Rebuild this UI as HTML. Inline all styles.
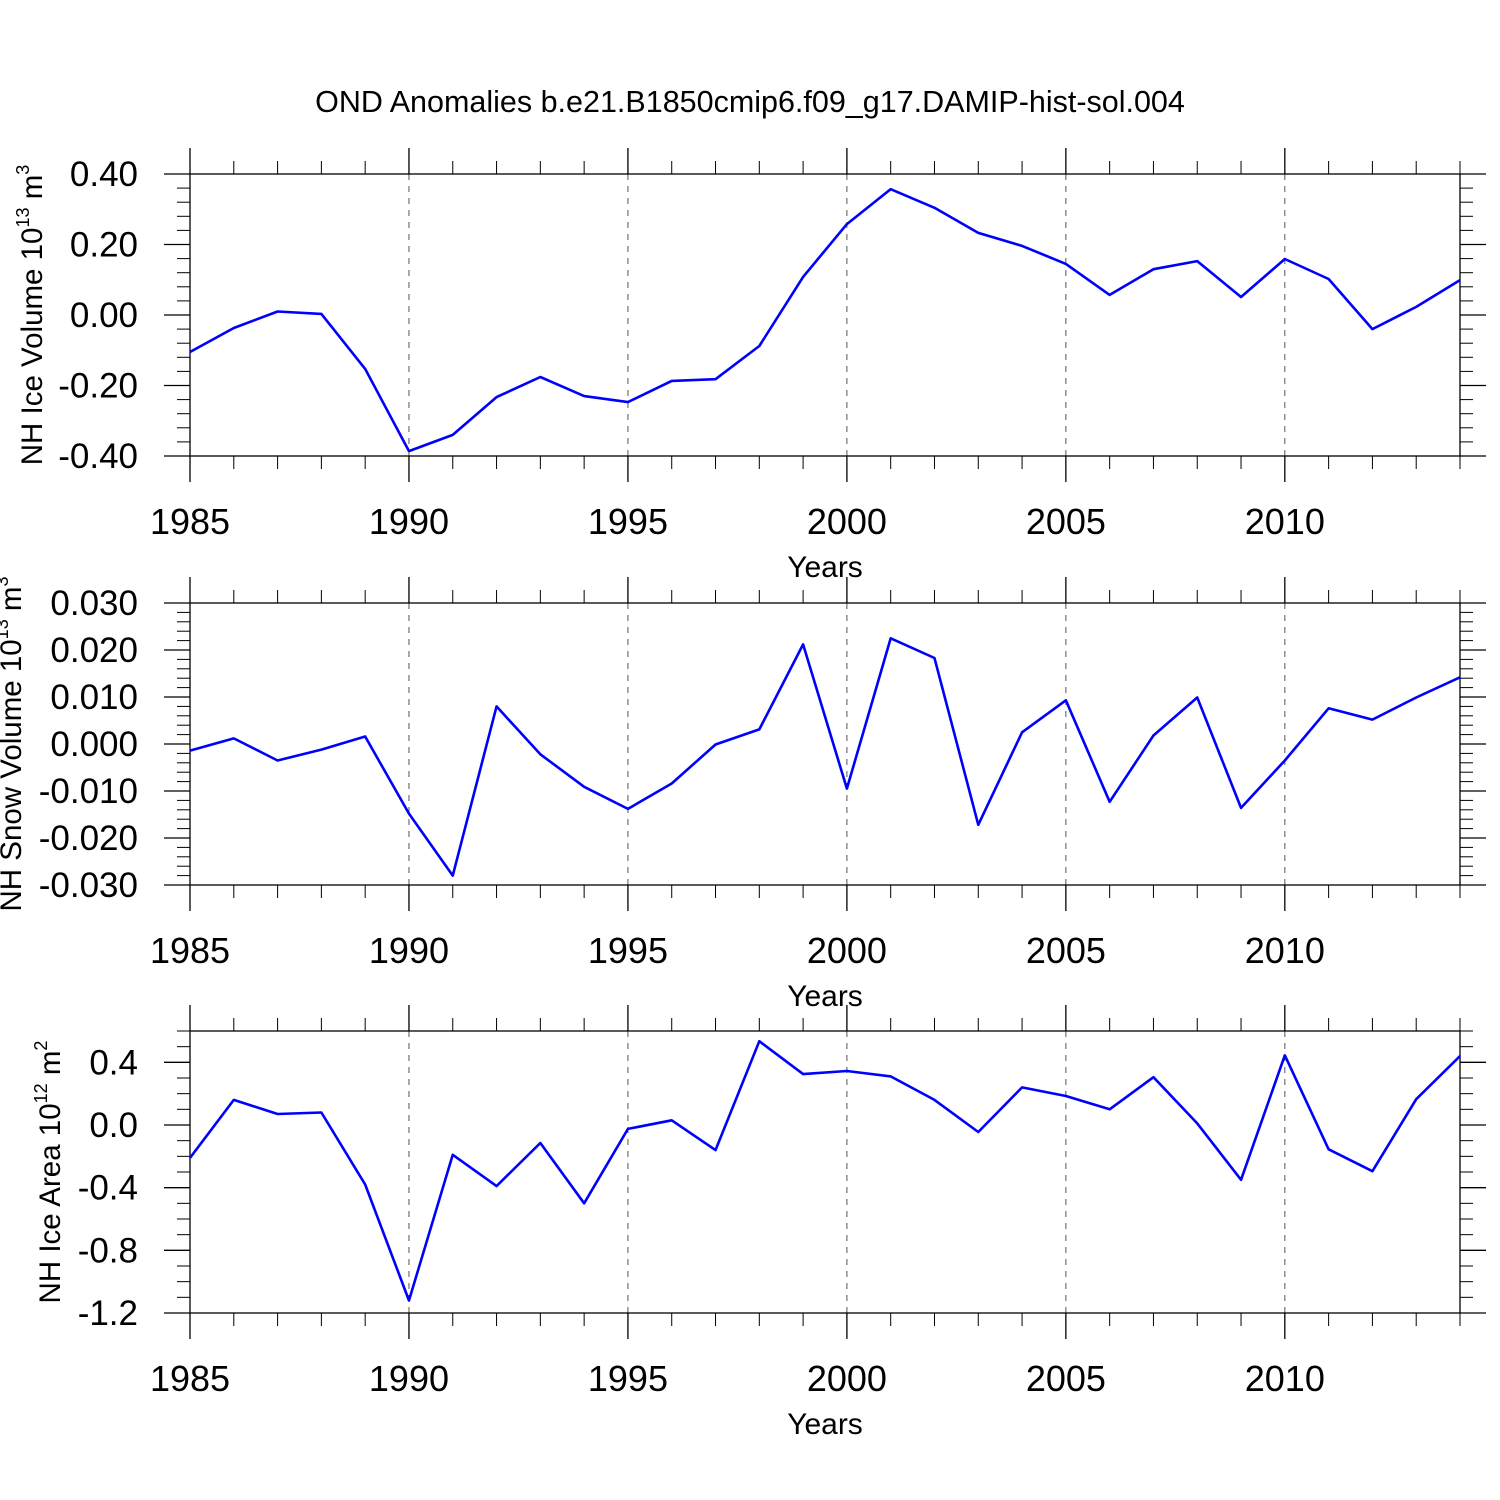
<!DOCTYPE html>
<html><head><meta charset="utf-8"><style>
html,body{margin:0;padding:0;background:#fff}
svg{display:block;font-family:"Liberation Sans",Arial,sans-serif}
</style></head><body>
<svg id="c" width="1500" height="1500" viewBox="0 0 1500 1500" xmlns="http://www.w3.org/2000/svg">
<text x="750" y="112" font-size="30.5" text-anchor="middle">OND Anomalies b.e21.B1850cmip6.f09_g17.DAMIP-hist-sol.004</text>
</svg>
<script>
const years = [1985,1986,1987,1988,1989,1990,1991,1992,1993,1994,1995,1996,1997,1998,1999,2000,2001,2002,2003,2004,2005,2006,2007,2008,2009,2010,2011,2012,2013,2014];
const iceVolume = [-0.105,-0.037,0.01,0.003,-0.153,-0.386,-0.34,-0.233,-0.176,-0.23,-0.247,-0.187,-0.182,-0.088,0.108,0.258,0.357,0.304,0.233,0.196,0.145,0.057,0.13,0.153,0.051,0.159,0.102,-0.04,0.023,0.099];
const snowVolume = [-0.0014,0.0012,-0.0035,-0.0012,0.0016,-0.0148,-0.028,0.008,-0.0022,-0.0091,-0.0138,-0.0084,-0.0001,0.0031,0.0212,-0.0095,0.0225,0.0183,-0.0172,0.0025,0.0093,-0.0123,0.0018,0.0099,-0.0136,-0.0035,0.0076,0.0052,0.0099,0.0142];
const iceArea = [-0.21,0.16,0.07,0.08,-0.38,-1.12,-0.19,-0.39,-0.115,-0.50,-0.025,0.03,-0.16,0.535,0.325,0.345,0.31,0.16,-0.045,0.24,0.185,0.10,0.305,0.01,-0.35,0.445,-0.155,-0.295,0.165,0.44];
const xTickLabels = [1985,1990,1995,2000,2005,2010];
const iceVolTicks = [0.4,0.2,0,-0.2,-0.4];
const iceVolTickLabels = ["0.40","0.20","0.00","-0.20","-0.40"];
const snowTicks = [0.03,0.02,0.01,0,-0.01,-0.02,-0.03];
const snowTickLabels = ["0.030","0.020","0.010","0.000","-0.010","-0.020","-0.030"];
const areaTicks = [0.4,0,-0.4,-0.8,-1.2];
const areaTickLabels = ["0.4","0.0","-0.4","-0.8","-1.2"];

const svg = document.getElementById('c');
const NS = 'http://www.w3.org/2000/svg';
function mk(tag, attrs, parent){const e=document.createElementNS(NS,tag);for(const k in attrs)e.setAttribute(k,attrs[k]);(parent||svg).appendChild(e);return e;}
const X0=190,X1=1460;
function xs(y){return X0+(y-1985)*(X1-X0)/29;}

function panel(opt){
  const g=mk('g',{});
  
  
  const top=opt.top,bot=opt.top+282;
  const ys=v=>bot-(v-opt.min)*(bot-top)/(opt.max-opt.min);
  xTickLabels.forEach(y=>{if(y===1985)return;
    const l=mk('line',{x1:xs(y),x2:xs(y),y1:top,y2:bot,stroke:'#555','stroke-width':1,'stroke-dasharray':'6,6'},g);
    
    
  });
  for(let y=1985;y<=2014;y++){
    const major=(y%5===0);const len=major?26:13;const x=xs(y);
    mk('line',{x1:x,x2:x,y1:bot,y2:bot+len,stroke:'#000','stroke-width':major?1.3:1},g);
    mk('line',{x1:x,x2:x,y1:top,y2:top-len,stroke:'#000','stroke-width':major?1.3:1},g);
  }
  const nMin=Math.round((opt.max-opt.min)/opt.minor);
  for(let i=0;i<=nMin;i++){
    const v=opt.min+i*opt.minor;const yy=ys(v);
    const isMaj=opt.ticks.some(t=>Math.abs(t-v)<opt.minor/10);
    const len=isMaj?26:13;
    mk('line',{x1:X0,x2:X0-len,y1:yy,y2:yy,stroke:'#000','stroke-width':isMaj?1.3:1},g);
    mk('line',{x1:X1,x2:X1+len,y1:yy,y2:yy,stroke:'#000','stroke-width':isMaj?1.3:1},g);
  }
  const box=mk('rect',{x:X0,y:top,width:X1-X0,height:bot-top,fill:'none',stroke:'#000','stroke-width':1.3},g);
  
  
  opt.ticks.forEach((t,i)=>{
    const tx=mk('text',{x:138,y:ys(t)+12,'font-size':35,'text-anchor':'end'},g);
    tx.textContent=opt.labels[i];
    
    
  });
  xTickLabels.forEach(y=>{
    const tx=mk('text',{x:xs(y),y:bot+78,'font-size':36,'text-anchor':'middle'},g);
    tx.textContent=y;
    
    
  });
  const xt=mk('text',{x:825,y:bot+121,'font-size':30,'text-anchor':'middle'},g);
  xt.textContent='Years';
  
  
  const yt=mk('text',{transform:`translate(${opt.titleX},${(top+bot)/2}) rotate(-90)`,'font-size':29.5,'text-anchor':'middle'},g);
  yt.innerHTML=opt.title;
  
  
  const pts=opt.data.map((v,i)=>xs(years[i])+','+ys(v).toFixed(1)).join(' ');
  const pl=mk('polyline',{points:pts,fill:'none',stroke:'#0000ff','stroke-width':2.6,'stroke-linejoin':'round'},g);
  
  
}
panel({name:'ice-volume',top:174,min:-0.4,max:0.4,minor:0.04,ticks:iceVolTicks,labels:iceVolTickLabels,data:iceVolume,titleX:42,
  title:'NH Ice Volume 10<tspan font-size="18" dy="-13">13</tspan><tspan dy="13"> m</tspan><tspan font-size="18" dy="-13">3</tspan>'});
panel({name:'snow-volume',top:603,min:-0.03,max:0.03,minor:0.002,ticks:snowTicks,labels:snowTickLabels,data:snowVolume,titleX:21,
  title:'NH Snow Volume 10<tspan font-size="18" dy="-13">13</tspan><tspan dy="13"> m</tspan><tspan font-size="18" dy="-13">3</tspan>'});
panel({name:'ice-area',top:1031,min:-1.2,max:0.6,minor:0.1,ticks:areaTicks,labels:areaTickLabels,data:iceArea,titleX:60,
  title:'NH Ice Area 10<tspan font-size="18" dy="-13">12</tspan><tspan dy="13"> m</tspan><tspan font-size="18" dy="-13">2</tspan>'});
</script>
</body></html>
